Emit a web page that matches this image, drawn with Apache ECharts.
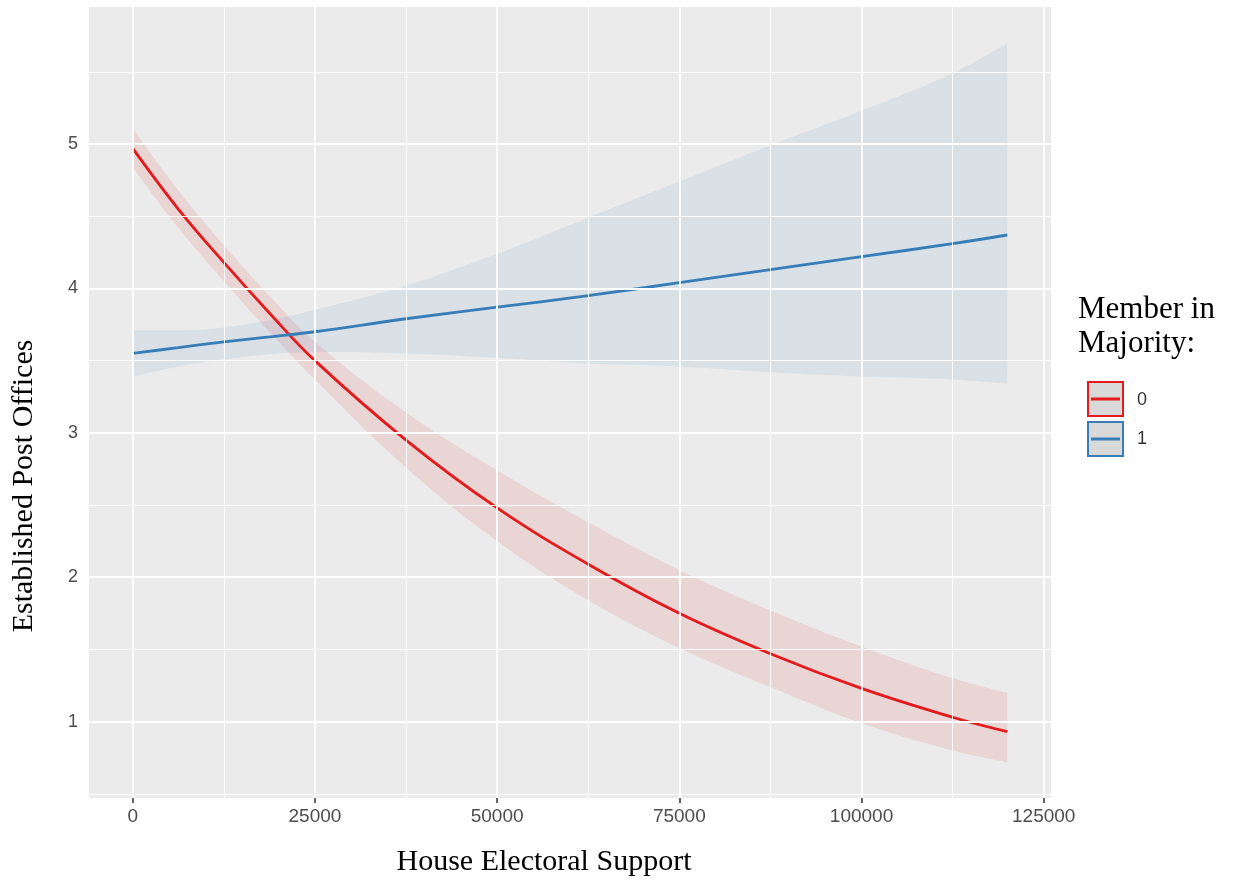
<!DOCTYPE html>
<html>
<head>
<meta charset="utf-8">
<script src="https://cdn.jsdelivr.net/npm/echarts@6/dist/echarts.min.js"></script>
<style>
html,body{margin:0;padding:0;background:#fff;}
#chart{width:1236px;height:884px;}
</style>
</head>
<body>
<div id="chart"></div>
<script>
// ---- data ----
const xValues = [0, 6250, 12500, 18750, 25000, 37500, 50000, 62500, 75000, 87500, 100000, 112500, 120000];
const fitNonMajority   = [4.97, 4.55, 4.18, 3.83, 3.50, 2.95, 2.48, 2.09, 1.75, 1.47, 1.23, 1.03, 0.93];
const upperNonMajority = [5.11, 4.68, 4.30, 3.95, 3.63, 3.14, 2.74, 2.38, 2.05, 1.77, 1.52, 1.30, 1.20];
const lowerNonMajority = [4.84, 4.42, 4.05, 3.70, 3.37, 2.76, 2.25, 1.84, 1.51, 1.24, 0.99, 0.80, 0.72];
const fitMajority   = [3.55, 3.59, 3.63, 3.665, 3.70, 3.79, 3.87, 3.95, 4.04, 4.13, 4.22, 4.31, 4.37];
const upperMajority = [3.71, 3.71, 3.73, 3.78, 3.85, 4.02, 4.24, 4.49, 4.74, 4.99, 5.23, 5.49, 5.70];
const lowerMajority = [3.39, 3.46, 3.51, 3.545, 3.56, 3.55, 3.52, 3.48, 3.46, 3.42, 3.39, 3.37, 3.34];
const groupLabels = ['0', '1'];
const xTicks = [0, 25000, 50000, 75000, 100000, 125000];
const xMinorTicks = [12500, 37500, 62500, 87500, 112500];
const yTicks = [1, 2, 3, 4, 5];
const yMinorTicks = [0.5, 1.5, 2.5, 3.5, 4.5, 5.5];
const xTitle = 'House Electoral Support';
const yTitle = 'Established Post Offices';
const legendTitle = 'Member in\nMajority:';

const RED = '#E41A1C', BLUE = '#377EB8';
const pairs = (ys) => xValues.map((x, i) => [x, ys[i]]);
// band data: value-first so that the stacked dimension is the y value
const yFirst = (ys) => xValues.map((x, i) => [ys[i], x]);
const spansYFirst = (up, lo) => xValues.map((x, i) => [+(up[i] - lo[i]).toFixed(4), x]);

const gridLines = [].concat(
  xTicks.map(v => ({xAxis: v, lineStyle: {color: '#fff', width: 1.8, type: 'solid'}})),
  xMinorTicks.map(v => ({xAxis: v, lineStyle: {color: '#fff', width: 0.9, type: 'solid'}})),
  yTicks.map(v => ({yAxis: v, lineStyle: {color: '#fff', width: 1.8, type: 'solid'}})),
  yMinorTicks.map(v => ({yAxis: v, lineStyle: {color: '#fff', width: 0.9, type: 'solid'}}))
);

const chart = echarts.init(document.getElementById('chart'), null, {renderer: 'canvas'});
const SM = 0.4;
const bandCommon = {type: 'line', z: 2, smooth: SM, showSymbol: false, silent: true, encode: {x: 1, y: 0}, stackStrategy: 'all'};
const option = {
  animation: false,
  backgroundColor: '#fff',
  grid: {left: 89, right: 185, top: 7, bottom: 86, show: true, backgroundColor: '#EBEBEB', borderWidth: 0},
  xAxis: {
    type: 'value', min: -6000, max: 126000,
    axisLine: {show: false},
    axisTick: {show: true, length: 5, lineStyle: {color: '#333', width: 1.5}, customValues: xTicks},
    axisLabel: {color: '#4D4D4D', fontSize: 19, fontFamily: 'Liberation Sans, Arial, sans-serif', margin: 9, customValues: xTicks, formatter: v => String(v)},
    splitLine: {show: false}
  },
  yAxis: {
    type: 'value', min: 0.471, max: 5.949,
    axisLine: {show: false},
    axisTick: {show: true, length: 5, lineStyle: {color: '#333', width: 1.5}, customValues: yTicks},
    axisLabel: {color: '#4D4D4D', fontSize: 18, fontFamily: 'Liberation Sans, Arial, sans-serif', margin: 11, customValues: yTicks, formatter: v => String(v)},
    splitLine: {show: false}
  },
  series: [
    {
      name: 'grid', type: 'line', z: 1, data: pairs(fitNonMajority), showSymbol: false,
      lineStyle: {opacity: 0}, silent: true,
      markLine: {silent: true, symbol: 'none', label: {show: false}, data: gridLines, animation: false}
    },
    Object.assign({name: 'band0base', stack: 'band0', data: yFirst(lowerNonMajority), lineStyle: {opacity: 0}}, bandCommon),
    Object.assign({name: 'band0', stack: 'band0', data: spansYFirst(upperNonMajority, lowerNonMajority), lineStyle: {opacity: 0},
      areaStyle: {color: 'rgba(228,26,28,0.15)'}}, bandCommon),
    Object.assign({name: 'band1base', stack: 'band1', data: yFirst(lowerMajority), lineStyle: {opacity: 0}}, bandCommon),
    Object.assign({name: 'band1', stack: 'band1', data: spansYFirst(upperMajority, lowerMajority), lineStyle: {opacity: 0},
      areaStyle: {color: 'rgba(55,126,184,0.14)'}}, bandCommon),
    {
      name: groupLabels[0], type: 'line', z: 3, data: pairs(fitNonMajority),
      smooth: SM, showSymbol: false, lineStyle: {color: RED, width: 2.8}
    },
    {
      name: groupLabels[1], type: 'line', z: 3, data: pairs(fitMajority),
      smooth: SM, showSymbol: false, lineStyle: {color: BLUE, width: 2.8}
    }
  ],
  graphic: [
    {type: 'text', x: 544, y: 862, style: {text: xTitle, font: '30px "Liberation Serif", "Times New Roman", serif', fill: '#000', align: 'center', verticalAlign: 'middle'}},
    {type: 'text', x: 24, y: 486, rotation: Math.PI / 2, style: {text: yTitle, font: '30px "Liberation Serif", "Times New Roman", serif', fill: '#000', align: 'center', verticalAlign: 'middle'}},
    {type: 'text', x: 1078, y: 293, style: {text: legendTitle, font: '31px "Liberation Serif", "Times New Roman", serif', fill: '#000', align: 'left', verticalAlign: 'top', lineHeight: 34}},
    {type: 'rect', shape: {x: 1088, y: 382, width: 35, height: 34}, style: {fill: '#D9D9D9', stroke: RED, lineWidth: 2}},
    {type: 'line', shape: {x1: 1091, y1: 399, x2: 1120, y2: 399}, style: {stroke: RED, lineWidth: 3}},
    {type: 'text', x: 1137, y: 400, style: {text: groupLabels[0], font: '18px "Liberation Sans", Arial, sans-serif', fill: '#333', verticalAlign: 'middle'}},
    {type: 'rect', shape: {x: 1088, y: 422, width: 35, height: 34}, style: {fill: '#D9D9D9', stroke: BLUE, lineWidth: 2}},
    {type: 'line', shape: {x1: 1091, y1: 439, x2: 1120, y2: 439}, style: {stroke: BLUE, lineWidth: 3}},
    {type: 'text', x: 1137, y: 439, style: {text: groupLabels[1], font: '18px "Liberation Sans", Arial, sans-serif', fill: '#333', verticalAlign: 'middle'}}
  ]
};
chart.setOption(option);
</script>
</body>
</html>
